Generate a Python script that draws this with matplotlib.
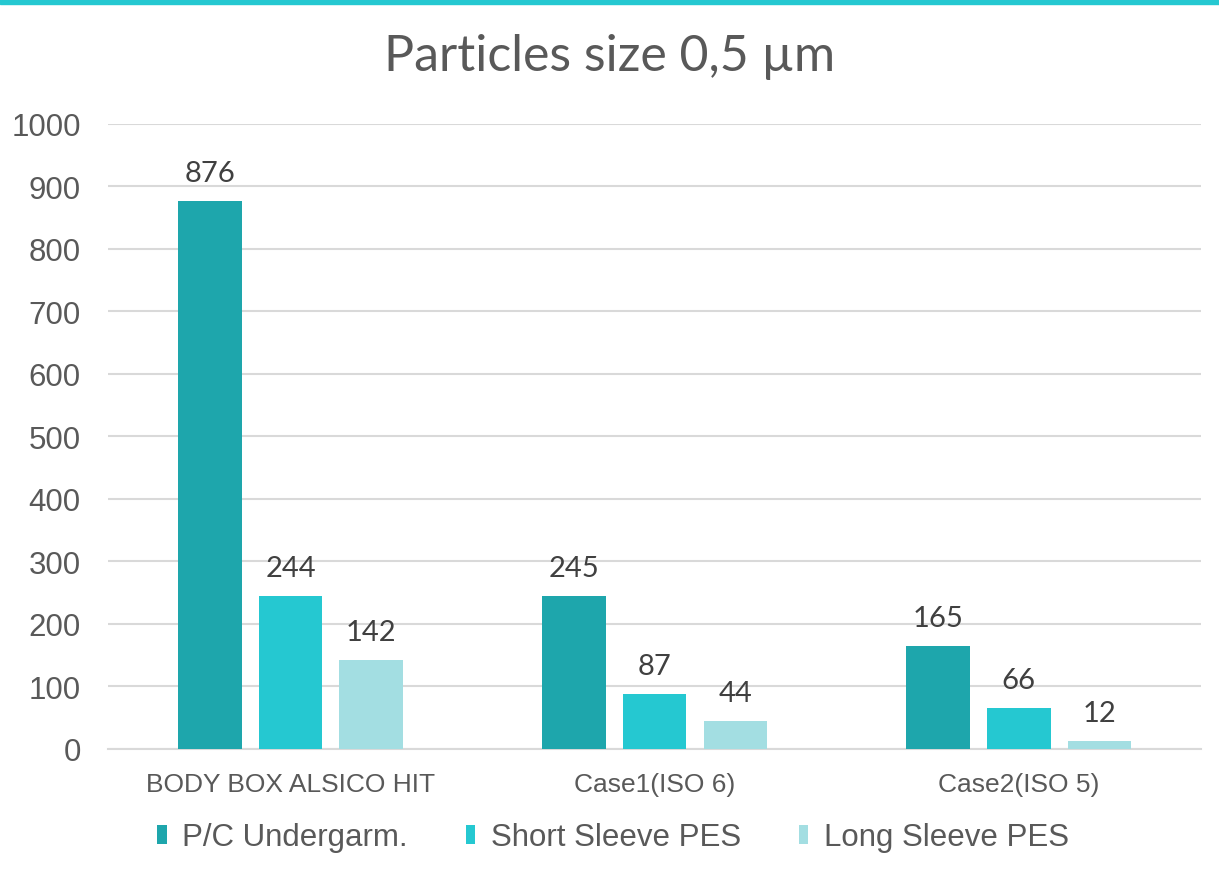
import matplotlib
matplotlib.use("Agg")
import matplotlib.pyplot as plt
import numpy as np

categories = ["BODY BOX ALSICO HIT", "Case1(ISO 6)", "Case2(ISO 5)"]
series_names = ["P/C Undergarm.", "Short Sleeve PES", "Long Sleeve PES"]
pc_undergarm = [876, 245, 165]
short_sleeve = [244, 87, 66]
long_sleeve = [142, 44, 12]
colors = ["#1EA6AC", "#25C8D1", "#A3DEE2"]

fig = plt.figure(figsize=(12.19, 8.78), dpi=100)
ax = fig.add_axes([0.089, 0.146, 0.896, 0.712])

# teal strip at the top
fig.patches.append(plt.Rectangle((0, 0.994), 1, 0.006, transform=fig.transFigure,
                                 color="#25C8D1", zorder=0))

x = np.arange(len(categories))
step = 0.222
width = 0.175
txt = "#404040"
for j, (vals, name) in enumerate(zip([pc_undergarm, short_sleeve, long_sleeve], series_names)):
    pos = x + (j - 1) * step
    ax.bar(pos, vals, width, color=colors[j], label=name, zorder=3)
    for p, v in zip(pos, vals):
        ax.text(p, v + 24, str(v), ha="center", va="bottom", fontsize=21,
                family="Lato", color=txt)

ax.set_xlim(-0.5, 2.5)
ax.set_ylim(0, 1000)
ax.set_yticks(range(0, 1001, 100))
ax.yaxis.grid(True, color="#D9D9D9", linewidth=1.5, zorder=0)
ax.set_axisbelow(True)
for s in ["top", "right", "left"]:
    ax.spines[s].set_visible(False)
ax.spines["bottom"].set_color("#D9D9D9")
ax.spines["bottom"].set_linewidth(1.5)
ax.tick_params(length=0)
ax.set_xticks(x)
ax.set_xticklabels(categories, fontsize=19, family="Liberation Sans", color="#595959")
ax.tick_params(axis="x", pad=17)
ax.tick_params(axis="y", pad=20)
for lab in ax.get_yticklabels():
    lab.set_fontsize(22.5)
    lab.set_family("Liberation Sans")
    lab.set_color("#595959")

fig.text(0.5, 0.935, "Particles size 0,5 µm", ha="center", va="center",
         fontsize=36, family="Lato", color="#595959")

leg = fig.legend(loc="center", bbox_to_anchor=(0.503, 0.045), ncol=3, frameon=False,
                 handlelength=0.3, handleheight=0.55, handletextpad=0.5, columnspacing=1.85,
                 prop={"family": "Liberation Sans", "size": 22.5})
for t in leg.get_texts():
    t.set_color("#595959")

fig.savefig("out.png", dpi=100)
